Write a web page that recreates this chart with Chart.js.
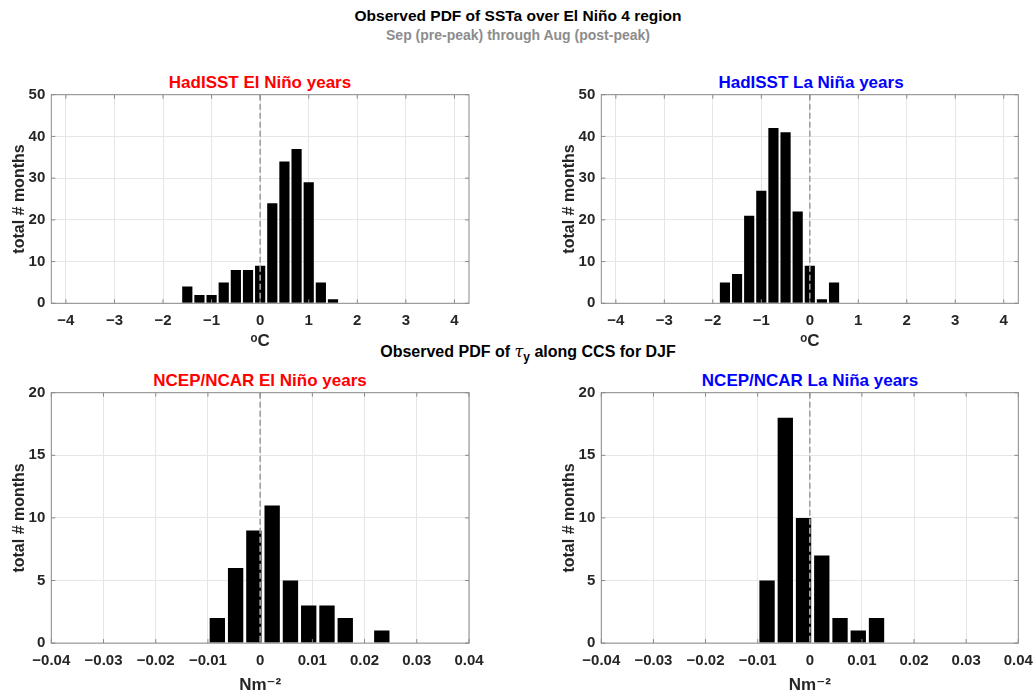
<!DOCTYPE html>
<html>
<head>
<meta charset="utf-8">
<script src="https://cdn.jsdelivr.net/npm/chart.js@4/dist/chart.umd.min.js"></script>
<style>
body { margin: 0; width: 1035px; height: 694px; overflow: hidden; background: #fff; position: relative;
       font-family: "Liberation Sans", Arial, sans-serif; }
.t { position: absolute; font-weight: bold; white-space: nowrap; transform: translate(-50%, -50%); }
canvas { position: absolute; }
</style>
</head>
<body>
<div class="t" style="left:518px;top:16px;font-size:15.5px;color:#000">Observed PDF of SSTa over El Niño 4 region</div>
<div class="t" style="left:518px;top:35px;font-size:14px;color:#8c8c8c">Sep (pre-peak) through Aug (post-peak)</div>
<div class="t" style="left:260px;top:83px;font-size:17px;color:#ff0000">HadISST El Niño years</div>
<div class="t" style="left:811px;top:83px;font-size:17px;color:#0000ff">HadISST La Niña years</div>
<div class="t" style="left:528px;top:353px;font-size:16px;color:#000">Observed PDF of <i style="font-family:'DejaVu Serif',serif;font-weight:normal">τ</i><sub style="font-size:12px">y</sub> along CCS for DJF</div>
<div class="t" style="left:260px;top:381px;font-size:17px;color:#ff0000">NCEP/NCAR El Niño years</div>
<div class="t" style="left:810px;top:381px;font-size:17px;color:#0000ff">NCEP/NCAR La Niña years</div>

<canvas id="c1" width="500" height="277" style="left:0;top:75px"></canvas>
<canvas id="c2" width="495" height="277" style="left:550px;top:75px"></canvas>
<canvas id="c3" width="500" height="321" style="left:0;top:375px"></canvas>
<canvas id="c4" width="495" height="321" style="left:550px;top:375px"></canvas>

<script>
// bin centres and counts
const ninoSstCenters = [-1.5, -1.25, -1, -0.75, -0.5, -0.25, 0, 0.25, 0.5, 0.75, 1, 1.25, 1.5];
const ninoSstCounts  = [4, 2, 2, 5, 8, 8, 9, 24, 34, 37, 29, 5, 1];
const ninaSstCenters = [-1.75, -1.5, -1.25, -1, -0.75, -0.5, -0.25, 0, 0.25, 0.5];
const ninaSstCounts  = [5, 7, 21, 27, 42, 41, 22, 9, 1, 5];
const ninoTauCenters = [-0.0082, -0.0047, -0.0012, 0.0023, 0.0058, 0.0093, 0.0128, 0.0163, 0.0233];
const ninoTauCounts  = [2, 6, 9, 11, 5, 3, 3, 2, 1];
const ninaTauCenters = [-0.0082, -0.0047, -0.0012, 0.0023, 0.0058, 0.0093, 0.0128];
const ninaTauCounts  = [5, 18, 10, 7, 2, 1, 2];

const sstTicks = [-4, -3, -2, -1, 0, 1, 2, 3, 4];
const tauTicks = [-0.04, -0.03, -0.02, -0.01, 0, 0.01, 0.02, 0.03, 0.04];
const sstCountTicks = [0, 10, 20, 30, 40, 50];
const tauCountTicks = [0, 5, 10, 15, 20];

const tickFont = { family: '"Liberation Sans", Arial, sans-serif', size: 15, weight: 'bold' };
const titleFont = { family: '"Liberation Sans", "DejaVu Sans", Arial, sans-serif', size: 17, weight: 'bold' };

// box, inward ticks and dashed zero line
const frame = {
  id: 'frame',
  afterDatasetsDraw(chart) {
    const { ctx, chartArea: a, scales: { x, y } } = chart;
    ctx.save();
    const x0 = x.getPixelForValue(0);
    ctx.strokeStyle = '#a0a0a0';
    ctx.lineWidth = 1.6;
    ctx.setLineDash([6, 3]);
    ctx.beginPath();
    ctx.moveTo(x0, a.top);
    ctx.lineTo(x0, a.bottom);
    ctx.stroke();
    ctx.setLineDash([]);
    ctx.strokeStyle = '#8a8a8a';
    ctx.lineWidth = 1;
    ctx.strokeRect(a.left, a.top, a.right - a.left, a.bottom - a.top);
    ctx.beginPath();
    x.ticks.forEach(t => {
      const px = x.getPixelForValue(t.value);
      ctx.moveTo(px, a.bottom); ctx.lineTo(px, a.bottom - 4);
      ctx.moveTo(px, a.top); ctx.lineTo(px, a.top + 4);
    });
    y.ticks.forEach(t => {
      const py = y.getPixelForValue(t.value);
      ctx.moveTo(a.left, py); ctx.lineTo(a.left + 4, py);
      ctx.moveTo(a.right, py); ctx.lineTo(a.right - 4, py);
    });
    ctx.stroke();
    ctx.restore();
  }
};

function makeHist(id, centers, counts, xTicks, xMin, xMax, yTicks, xTitle, padTop, padRight, axisH, fmt) {
  const ctx = document.getElementById(id).getContext('2d');
  new Chart(ctx, {
    type: 'bar',
    data: {
      datasets: [{
        data: centers.map((c, i) => ({ x: c, y: counts[i] })),
        backgroundColor: '#000',
        borderColor: '#000',
        borderWidth: 0,
        barPercentage: 0.84,
        categoryPercentage: 1
      }]
    },
    options: {
      responsive: false,
      animation: false,
      layout: { padding: { top: padTop, right: padRight, left: 0, bottom: 0 } },
      plugins: { legend: { display: false }, tooltip: { enabled: false } },
      scales: {
        x: {
          type: 'linear',
          offset: false,
          min: xMin,
          max: xMax,
          afterBuildTicks: s => { s.ticks = xTicks.map(v => ({ value: v })); },
          afterFit: s => { s.height = axisH; s.paddingLeft = 0; s.paddingRight = 0; },
          ticks: { font: tickFont, color: '#262626', padding: 9, maxRotation: 0, autoSkip: false, callback: fmt },
          grid: { color: '#e6e6e6', drawTicks: false, offset: false },
          border: { display: false },
          title: { display: true, text: xTitle, font: titleFont, color: '#262626', padding: { top: 0, bottom: 0 } }
        },
        y: {
          min: yTicks[0],
          max: yTicks[yTicks.length - 1],
          afterBuildTicks: s => { s.ticks = yTicks.map(v => ({ value: v })); },
          afterFit: s => { s.width = 51.3; s.paddingTop = 0; s.paddingBottom = 0; },
          ticks: { font: tickFont, color: '#262626', padding: 6 },
          grid: { color: '#e6e6e6', drawTicks: false },
          border: { display: false },
          title: { display: true, text: 'total # months', font: { ...tickFont, size: 16 }, color: '#262626', padding: { top: 10, bottom: 0 } }
        }
      }
    },
    plugins: [frame]
  });
}

const sstFmt = v => String(v).replace('-', '\u2212');
const tauFmt = v => (v === 0 ? '0' : v.toFixed(2).replace('-', '\u2212'));

makeHist('c1', ninoSstCenters, ninoSstCounts, sstTicks, -4.3, 4.3, sstCountTicks, 'ᵒC', 19.7, 31, 48.7, sstFmt);
makeHist('c2', ninaSstCenters, ninaSstCounts, sstTicks, -4.3, 4.3, sstCountTicks, 'ᵒC', 19.7, 26.7, 48.7, sstFmt);
makeHist('c3', ninoTauCenters, ninoTauCounts, tauTicks, -0.04, 0.04, tauCountTicks, 'Nm⁻²', 17.7, 31, 52.9, tauFmt);
makeHist('c4', ninaTauCenters, ninaTauCounts, tauTicks, -0.04, 0.04, tauCountTicks, 'Nm⁻²', 17.7, 26.7, 52.9, tauFmt);
</script>
</body>
</html>
